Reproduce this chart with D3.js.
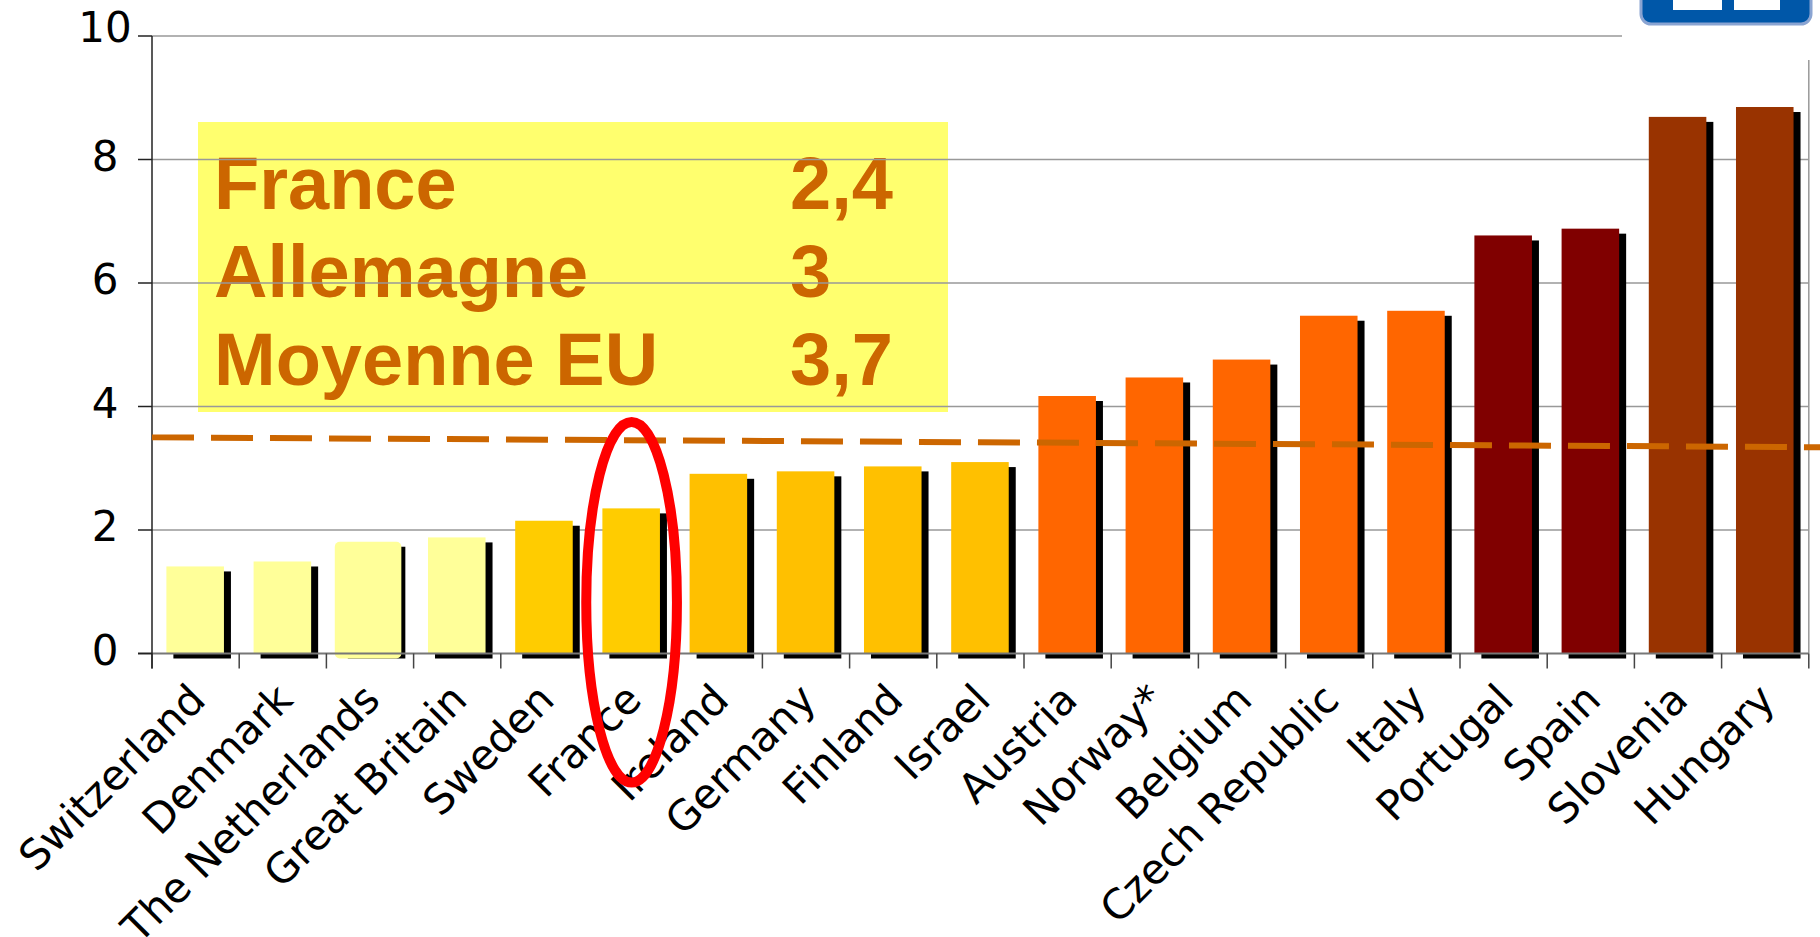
<!DOCTYPE html>
<html>
<head>
<meta charset="utf-8">
<script src="https://cdn.jsdelivr.net/npm/d3@7"></script>
<style>
    body { margin: 0; background: #fff; }
    svg { display: block; }
</style>
</head>
<body>
<svg id="chart" width="1820" height="937"></svg>
<script>
// values
const countries = ['Switzerland', 'Denmark', 'The Netherlands', 'Great Britain', 'Sweden', 'France',
    'Ireland', 'Germany', 'Finland', 'Israel', 'Austria', 'Norway*', 'Belgium', 'Czech Republic',
    'Italy', 'Portugal', 'Spain', 'Slovenia', 'Hungary'];
const values = [1.41, 1.49, 1.81, 1.88, 2.15, 2.35, 2.91, 2.95, 3.03, 3.10, 4.17, 4.47, 4.76, 5.47,
    5.55, 6.77, 6.88, 8.69, 8.85];
const barColors = ['#ffff99', '#ffff99', '#ffff99', '#ffff99', '#ffcc00', '#ffcc00', '#ffc000',
    '#ffc000', '#ffc000', '#ffc000', '#ff6600', '#ff6600', '#ff6600', '#ff6600', '#ff6600',
    '#800000', '#800000', '#993300', '#993300'];
const yTicks = [0, 2, 4, 6, 8, 10];
const legendNames = ['France', 'Allemagne', 'Moyenne EU'];
const legendValues = ['2,4', '3', '3,7'];
// dashed reference line: position in category units, value
const avgLine = [{pos: 0, value: 3.50}, {pos: 19.14, value: 3.34}];
const highlighted = 'The Netherlands';

const svg = d3.select('#chart');
const plotLeft = 152, plotRight = 1808.8, plotTop = 36, plotBottom = 653.5;

const x = d3.scaleBand().domain(countries).range([plotLeft, plotRight]);
const xPos = d3.scaleLinear().domain([0, countries.length]).range([plotLeft, plotRight]);
const y = d3.scaleLinear().domain([0, 10]).range([plotBottom, plotTop]);
const bw = x.bandwidth();

// legend box (sits under the gridlines)
const legend = svg.append('g');
legend.append('rect')
    .attr('x', 198).attr('y', 122)
    .attr('width', 750).attr('height', 290)
    .attr('fill', '#ffff6e');
legendNames.forEach((name, i) => {
    legend.append('text')
        .attr('x', 214).attr('y', 209 + i * 88)
        .attr('font-family', 'Liberation Sans, Arial, sans-serif')
        .attr('font-weight', 'bold').attr('font-size', 74)
        .attr('fill', '#cc6600')
        .text(name);
    legend.append('text')
        .attr('x', 790).attr('y', 209 + i * 88)
        .attr('font-family', 'Liberation Sans, Arial, sans-serif')
        .attr('font-weight', 'bold').attr('font-size', 74)
        .attr('fill', '#cc6600')
        .text(legendValues[i]);
});

// gridlines
svg.append('g')
    .selectAll('line')
    .data(yTicks.filter(d => d > 0))
    .enter().append('line')
    .attr('x1', plotLeft)
    .attr('x2', d => d === 10 ? 1622 : plotRight)
    .attr('y1', d => y(d)).attr('y2', d => y(d))
    .attr('stroke', '#999').attr('stroke-width', 1.5);

svg.append('line')
    .attr('x1', plotRight).attr('x2', plotRight)
    .attr('y1', 60).attr('y2', plotBottom)
    .attr('stroke', '#999').attr('stroke-width', 1.5);

// bars with drop shadow
const bars = svg.append('g');
bars.selectAll('rect.shadow')
    .data(countries)
    .enter().append('rect')
    .attr('class', 'shadow')
    .attr('x', d => x(d) + bw * 0.165 + 7)
    .attr('y', (d, i) => y(values[i]) + 5)
    .attr('width', bw * 0.66)
    .attr('height', (d, i) => plotBottom - y(values[i]))
    .attr('fill', '#000');

bars.selectAll('rect.bar')
    .data(countries)
    .enter().append('rect')
    .attr('class', 'bar')
    .attr('x', d => x(d) + bw * 0.165 - (d === highlighted ? 6 : 0))
    .attr('y', (d, i) => y(values[i]))
    .attr('width', d => bw * 0.66 + (d === highlighted ? 9 : 0))
    .attr('height', (d, i) => plotBottom - y(values[i]) + (d === highlighted ? 5 : 0))
    .attr('rx', d => d === highlighted ? 5 : 0)
    .attr('fill', (d, i) => barColors[i]);

// x axis line and ticks
svg.append('line')
    .attr('x1', 138).attr('x2', plotRight)
    .attr('y1', plotBottom).attr('y2', plotBottom)
    .attr('stroke', '#777').attr('stroke-width', 2);

svg.append('g')
    .selectAll('line')
    .data(d3.range(countries.length + 1))
    .enter().append('line')
    .attr('x1', d => xPos(d)).attr('x2', d => xPos(d))
    .attr('y1', plotBottom).attr('y2', plotBottom + 15)
    .attr('stroke', '#444').attr('stroke-width', 1.5);

// y axis
svg.append('line')
    .attr('x1', plotLeft).attr('x2', plotLeft)
    .attr('y1', plotTop).attr('y2', plotBottom + 15)
    .attr('stroke', '#222').attr('stroke-width', 1.5);

const yAxis = svg.append('g');
yAxis.selectAll('line')
    .data(yTicks)
    .enter().append('line')
    .attr('x1', 138).attr('x2', plotLeft)
    .attr('y1', d => y(d)).attr('y2', d => y(d))
    .attr('stroke', '#222').attr('stroke-width', 1.5);
yAxis.selectAll('text')
    .data(yTicks)
    .enter().append('text')
    .attr('x', 105)
    .attr('y', d => y(d) + (d === 10 ? 6 : 11))
    .attr('text-anchor', 'middle')
    .attr('font-family', 'DejaVu Sans, Verdana, sans-serif')
    .attr('font-size', 42)
    .attr('fill', '#000')
    .text(d => d);

// category labels, rotated
svg.append('g')
    .selectAll('text')
    .data(countries)
    .enter().append('text')
    .attr('transform', d => `translate(${x(d) + bw / 2 + 12},702) rotate(-45)`)
    .attr('text-anchor', 'end')
    .attr('font-family', 'DejaVu Sans, Verdana, sans-serif')
    .attr('font-size', 41.5)
    .attr('fill', '#000')
    .text(d => d);

// dashed line
svg.append('path')
    .datum(avgLine)
    .attr('d', d3.line().x(d => xPos(d.pos)).y(d => y(d.value)))
    .attr('fill', 'none')
    .attr('stroke', '#cc6600')
    .attr('stroke-width', 6)
    .attr('stroke-dasharray', '42 17');

// red ellipse round France
svg.append('ellipse')
    .attr('cx', x('France') + bw / 2)
    .attr('cy', y(0.83))
    .attr('rx', bw * 0.52)
    .attr('ry', y(0) - y(2.92))
    .attr('fill', 'none')
    .attr('stroke', '#ff0000')
    .attr('stroke-width', 10);

// logo corner, cut by the top edge
const logo = svg.append('g');
logo.append('rect')
    .attr('x', 1641).attr('y', -30)
    .attr('width', 170).attr('height', 54)
    .attr('rx', 10)
    .attr('fill', '#0057a8')
    .attr('stroke', '#8aa4d2').attr('stroke-width', 3);
logo.append('rect').attr('x', 1673).attr('y', -5).attr('width', 49).attr('height', 15).attr('fill', '#fff');
logo.append('rect').attr('x', 1734).attr('y', -5).attr('width', 46).attr('height', 15).attr('fill', '#fff');
</script>
</body>
</html>
